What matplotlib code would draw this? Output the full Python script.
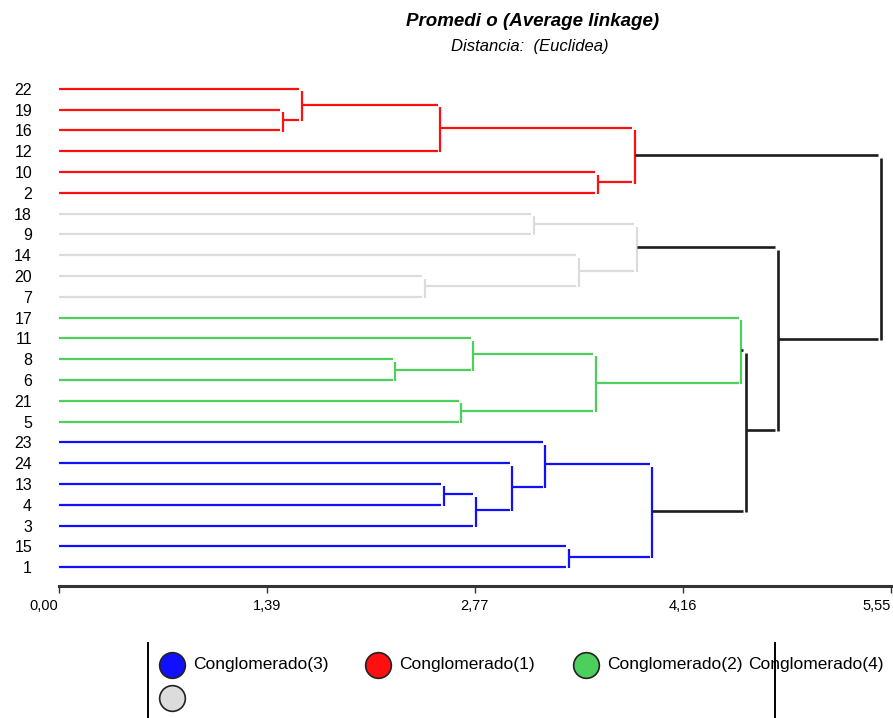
import numpy as np
import matplotlib.pyplot as plt

plt.rcParams['font.family'] = ['Liberation Sans', 'DejaVu Sans']

# leaf order, top to bottom
leaves = ['22', '19', '16', '12', '10', '2', '18', '9', '14', '20', '7',
          '17', '11', '8', '6', '21', '5', '23', '24', '13', '4', '3', '15', '1']

# merge steps: children (leaf label or index of an earlier merge) and distance
merge_a = ['19', '22', '12', '10', 2, '18', '20', '14', 5, '8', '11', '21',
           10, '17', '13', 14, '24', '23', '15', 17, 13, 8, 4]
merge_b = ['16', 0, 1, '2', 3, '9', '7', 6, 7, '6', 9, '5',
           11, 12, '4', '3', 15, 16, '1', 18, 19, 20, 21]
heights = [1.495, 1.621, 2.545, 3.595, 3.840, 3.168, 2.441, 3.468, 3.855,
           2.245, 2.765, 2.685, 3.583, 4.552, 2.570, 2.781, 3.025, 3.245,
           3.401, 3.959, 4.581, 4.797, 5.483]
# cluster of each merge (0 = above the cut)
merge_group = [1, 1, 1, 1, 1, 4, 4, 4, 4, 2, 2, 2, 2, 2,
               3, 3, 3, 3, 3, 3, 0, 0, 0]

group_colors = {0: '#1c1c1c', 1: '#ff1010', 2: '#4ccf5c', 3: '#1010ff', 4: '#dcdcdc'}
legend_labels = ['Conglomerado(3)', 'Conglomerado(1)', 'Conglomerado(2)', 'Conglomerado(4)']
legend_groups = [3, 1, 2, 4]

x_max = 5.55
xticks = np.linspace(0, x_max, 5)

fig = plt.figure(figsize=(8.93, 7.18), dpi=100)
ax = fig.add_axes([58.5 / 893, 132 / 718, 832.5 / 893, 516 / 718])

leaf_y = {lab: i for i, lab in enumerate(leaves)}
node_y = []
gap = 0.018
for k in range(len(heights)):
    h = heights[k]
    col = group_colors[merge_group[k]]
    lw = 1.9 if merge_group[k] == 0 else 1.6
    ys = []
    for c in (merge_a[k], merge_b[k]):
        if isinstance(c, str):
            y, x0 = leaf_y[c], 0.0
        else:
            y, x0 = node_y[c], heights[c]
        ax.plot([x0, h - gap], [y, y], color=col, lw=lw, solid_capstyle='butt', clip_on=False)
        ys.append(y)
    y1, y2 = min(ys), max(ys)
    ax.plot([h, h], [y1 + 0.12, y2 + 0.05], color=col, lw=lw, solid_capstyle='butt', clip_on=False)
    node_y.append((ys[0] + ys[1]) / 2)

ax.set_xlim(0, x_max)
ax.set_ylim(23.91, -0.91)
for s in ['top', 'right', 'left']:
    ax.spines[s].set_visible(False)
ax.spines['bottom'].set_linewidth(2.2)
ax.spines['bottom'].set_color('#333333')

ax.set_xticks(xticks)
ax.set_xticklabels([f"{v:.2f}".replace('.', ',') for v in xticks], fontsize=10.5)
ax.tick_params(axis='x', direction='out', length=5, width=1, color='#333333', pad=4)
tl = ax.get_xticklabels()
tl[0].set_ha('right')
tl[-1].set_ha('right')

ax.set_yticks(range(len(leaves)))
ax.set_yticklabels(leaves, fontsize=11.5)
ax.tick_params(axis='y', length=0, pad=19)

fig.text(533 / 893, 1 - 21 / 718, 'Promedi o (Average linkage)', ha='center', va='center',
         fontsize=13.5, weight='bold', style='italic')
fig.text(530 / 893, 1 - 47 / 718, 'Distancia:  (Euclidea)', ha='center', va='center',
         fontsize=12, style='italic')

# legend box drawn in pixel coordinates
lax = fig.add_axes([0, 0, 1, 1])
lax.set_axis_off()
lax.set_xlim(0, 893)
lax.set_ylim(718, 0)
lax.plot([148, 148], [643, 718], color='k', lw=1.4)
lax.plot([775, 775], [643, 718], color='k', lw=1.4)
marker_x = [172, 378, 586]
text_x = [193, 399, 607, 748]
for i, lab in enumerate(legend_labels):
    if i < 3:
        lax.plot(marker_x[i], 665, 'o', ms=18.5, mfc=group_colors[legend_groups[i]],
                 mec='#222222', mew=1.2)
    lax.text(text_x[i], 665, lab, ha='left', va='center', fontsize=12.5)
lax.plot(172, 698, 'o', ms=18.5, mfc=group_colors[legend_groups[3]], mec='#222222', mew=1.2)

fig.savefig('out.png', dpi=100)
